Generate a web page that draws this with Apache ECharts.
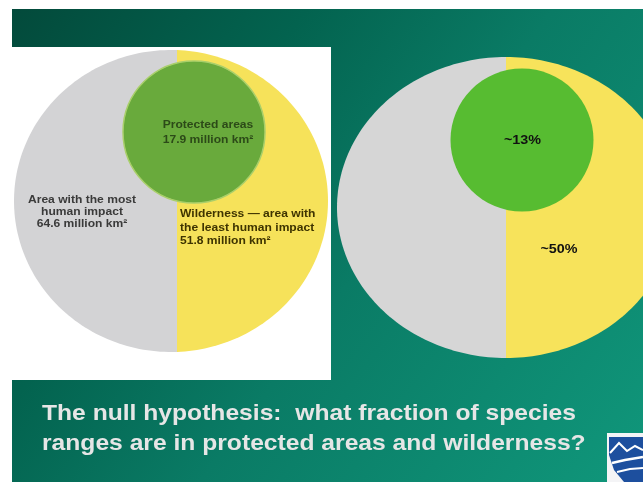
<!DOCTYPE html>
<html><head><meta charset="utf-8">
<script src="https://cdn.jsdelivr.net/npm/echarts@6/dist/echarts.min.js"></script>
<style>html,body{margin:0;padding:0;background:#fff}#c{width:643px;height:482px}</style>
</head><body><div id="c"></div>
<script>
// ---------- data ----------
const leftCategories = ['Area with the most\nhuman impact', 'Wilderness \u2014 area with\nthe least human impact', 'Protected areas'];
const leftValues = [64.6, 51.8, 17.9];          // million km²
const leftUnit = 'million km\u00b2';
const rightCategories = ['Rest', 'Wilderness', 'Protected areas'];
const rightShares = [50, 50, 13];               // percent
const rightLabels = ['', '~50%', '~13%'];
const titleLines = ['The null hypothesis:  what fraction of species', 'ranges are in protected areas and wilderness?'];

// ---------- layout / style ----------
const FONT = '"Liberation Sans", Arial, sans-serif';
const L = {cx: 171, cy: 201, rx: 157, ry: 151, split: 6, colors: ['#d3d3d5', '#f6e25a']};
const R = {cx: 506, cy: 207.5, rx: 169, ry: 150.5, colors: ['#d6d6d6', '#f7e35b']};

function solveU(frac) { // chord offset (normalized) so that area right of chord = frac
  let lo = -1, hi = 1;
  for (let k = 0; k < 60; k++) {
    const u = (lo + hi) / 2;
    const f = (Math.acos(u) - u * Math.sqrt(1 - u * u)) / Math.PI;
    if (f > frac) lo = u; else hi = u;
  }
  return (lo + hi) / 2;
}
R.split = R.rx * solveU(rightShares[1] / (rightShares[0] + rightShares[1]));

function regionRender(G) {
  return function (params, api) {
    const i = params.dataIndex;
    const t0 = Math.acos(G.split / G.rx);
    const pts = [], N = 120;
    for (let k = 0; k <= N; k++) {
      const t = i === 1 ? t0 - 2 * t0 * k / N : t0 + (2 * Math.PI - 2 * t0) * k / N;
      pts.push([G.cx + G.rx * Math.cos(t), G.cy - G.ry * Math.sin(t)]);
    }
    return {type: 'polygon', shape: {points: pts}, style: {fill: api.visual('color')}};
  };
}

const chart = echarts.init(document.getElementById('c'), null, {renderer: 'canvas'});

const txt = (x, y, text, size, color, align, sx, extra) => Object.assign({
  type: 'text', x: x, y: y, scaleX: sx || 1, z: 100,
  style: {text: text, font: 'bold ' + size + 'px ' + FONT, fill: color,
    textAlign: align || 'left', textVerticalAlign: 'middle', lineHeight: extra && extra.lh}
}, {});

chart.setOption({
  backgroundColor: '#ffffff',
  animation: false,
  graphic: [
    {type: 'rect', z: -10, shape: {x: 12, y: 9, width: 631, height: 473},
      style: {fill: {type: 'linear', x: 0, y: 0, x2: 1, y2: 1, colorStops: [
        {offset: 0, color: '#034a3b'}, {offset: 0.3, color: '#03634f'},
        {offset: 0.55, color: '#0a7b65'}, {offset: 1, color: '#10977b'}]}}},
    {type: 'rect', z: -9, shape: {x: 12, y: 47, width: 319, height: 333}, style: {fill: '#ffffff'}},
    // logo
    {type: 'rect', z: 50, shape: {x: 607, y: 433, width: 36, height: 49}, style: {fill: '#f4f4f6'}},
    {type: 'polygon', z: 51, shape: {points: [[609, 437], [643, 437], [643, 482], [624, 482], [614, 470], [609, 455]]}, style: {fill: '#1d4f9e'}},
    {type: 'polyline', z: 52, shape: {points: [[610, 453], [619, 443], [627, 451], [635, 446], [643, 450]]}, style: {stroke: '#ffffff', lineWidth: 2, fill: null}},
    {type: 'polyline', z: 52, shape: {points: [[612, 463], [625, 460], [643, 457]]}, style: {stroke: '#ffffff', lineWidth: 2.5, fill: null}},
    {type: 'polyline', z: 52, shape: {points: [[617, 472], [630, 469], [643, 468]]}, style: {stroke: '#ffffff', lineWidth: 2, fill: null}},
    // left labels
    txt(82, 212, leftCategories[0] + '\n' + leftValues[0] + ' ' + leftUnit, 10.5, '#3a3a3a', 'center', 1.15, {lh: 11.8}),
    txt(180, 228, leftCategories[1] + '\n' + leftValues[1] + ' ' + leftUnit, 10.5, '#3e3400', 'left', 1.15, {lh: 13.5}),
    txt(208, 132.5, leftCategories[2] + '\n' + leftValues[2] + ' ' + leftUnit, 10.5, '#2c4a18', 'center', 1.15, {lh: 15}),
    // right labels
    txt(522.5, 140, rightLabels[2], 12.8, '#111111', 'center', 1.12),
    txt(559, 249, rightLabels[1], 12.8, '#111111', 'center', 1.12),
    // title
    txt(42, 414, titleLines[0], 22, '#e6e6e6', 'left', 1.12),
    txt(42, 444, titleLines[1], 22, '#e6e6e6', 'left', 1.12)
  ],
  series: [
    {type: 'custom', coordinateSystem: 'none', renderItem: regionRender(L), z: 2,
      data: [
        {name: leftCategories[0], value: leftValues[0], itemStyle: {color: L.colors[0]}},
        {name: leftCategories[1], value: leftValues[1], itemStyle: {color: L.colors[1]}}]},
    {type: 'pie', center: [194, 132], radius: [0, 71], z: 3, silent: true,
      label: {show: false}, labelLine: {show: false},
      itemStyle: {color: '#69aa3c', borderColor: '#a9cf6a', borderWidth: 1.5},
      data: [{name: leftCategories[2], value: leftValues[2]}]},
    {type: 'custom', coordinateSystem: 'none', renderItem: regionRender(R), z: 2,
      data: [
        {name: rightCategories[0], value: rightShares[0], itemStyle: {color: R.colors[0]}},
        {name: rightCategories[1], value: rightShares[1], itemStyle: {color: R.colors[1]}}]},
    {type: 'pie', center: [522, 140], radius: [0, 71.5], z: 3, silent: true,
      label: {show: false}, labelLine: {show: false},
      itemStyle: {color: '#57bc31'},
      data: [{name: rightCategories[2], value: rightShares[2]}]}
  ]
});
</script></body></html>
